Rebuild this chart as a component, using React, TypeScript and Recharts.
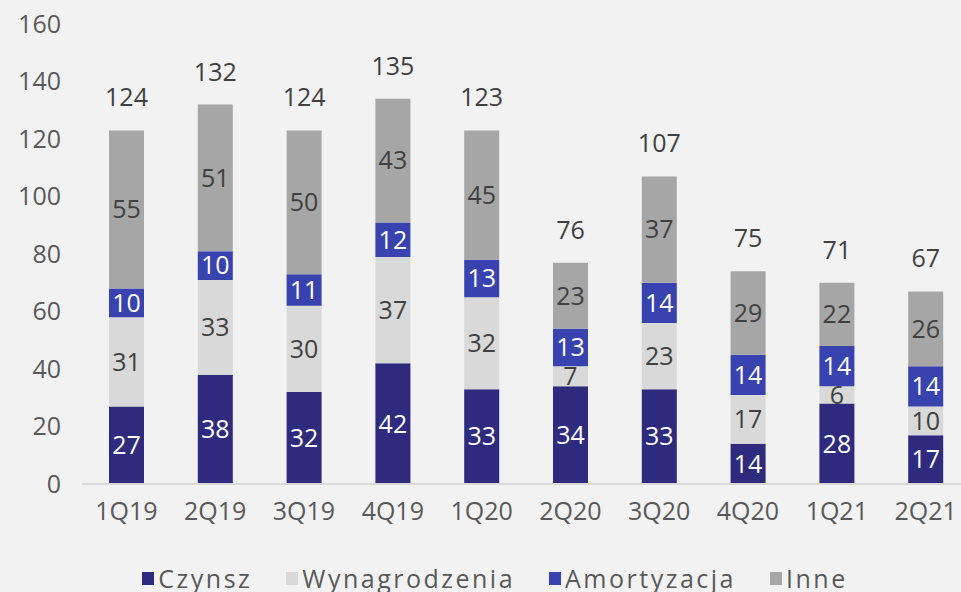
import { BarChart, Bar, XAxis, YAxis, LabelList, Legend } from "recharts";

const quarters = ["1Q19", "2Q19", "3Q19", "4Q19", "1Q20", "2Q20", "3Q20", "4Q20", "1Q21", "2Q21"];
const czynsz = [27, 38, 32, 42, 33, 34, 33, 14, 28, 17];
const wynagrodzenia = [31, 33, 30, 37, 32, 7, 23, 17, 6, 10];
const amortyzacja = [10, 10, 11, 12, 13, 13, 14, 14, 14, 14];
const inne = [55, 51, 50, 43, 45, 23, 37, 29, 22, 26];
const totals = [124, 132, 124, 135, 123, 76, 107, 75, 71, 67];
const yTicks = [0, 20, 40, 60, 80, 100, 120, 140, 160];

const FONT = "'Open Sans', sans-serif";
const AXIS = "#595959";
const DARK = "#404040";

const series = [
  { key: "Czynsz", color: "#2E2A7D", text: "#ffffff" },
  { key: "Wynagrodzenia", color: "#D9D9D9", text: DARK },
  { key: "Amortyzacja", color: "#3843B0", text: "#ffffff" },
  { key: "Inne", color: "#A6A6A6", text: DARK },
];

const chartData = quarters.map((q, i) => ({
  q,
  Czynsz: czynsz[i],
  Wynagrodzenia: wynagrodzenia[i],
  Amortyzacja: amortyzacja[i],
  Inne: inne[i],
  total: totals[i],
}));

function LegendBox() {
  return (
    <div
      style={{
        height: 58,
        paddingTop: 30,
        paddingLeft: 20,
        boxSizing: "border-box",
        display: "flex",
        justifyContent: "center",
        gap: 34,
        fontFamily: FONT,
        fontSize: 25,
        lineHeight: "24px",
        letterSpacing: 2.5,
        color: AXIS,
      }}
    >
      {series.map((s) => (
        <div key={s.key} style={{ display: "flex", alignItems: "center" }}>
          <span style={{ width: 12, height: 13, background: s.color, marginRight: 4, display: "inline-block" }} />
          <span>{s.key}</span>
        </div>
      ))}
    </div>
  );
}

export default function App() {
  return (
    <div
      style={{
        position: "fixed",
        left: 0,
        top: 0,
        width: 961,
        height: 592,
        overflow: "hidden",
        background: "#F2F2F2",
      }}
    >
      <BarChart
        width={970}
        height={592}
        data={chartData}
        margin={{ top: 24, right: 0, bottom: 0, left: 0 }}
        barSize={35}
      >
        <XAxis
          dataKey="q"
          height={50}
          tickLine={false}
          tickSize={0}
          tickMargin={18}
          axisLine={{ stroke: "#D9D9D9", strokeWidth: 2 }}
          tick={{ fill: AXIS, fontSize: 25, fontFamily: FONT }}
        />
        <YAxis
          width={82}
          domain={[0, 160]}
          ticks={yTicks}
          axisLine={false}
          tickLine={false}
          tickSize={0}
          tickMargin={21}
          tick={{ fill: AXIS, fontSize: 25, fontFamily: FONT }}
        />
        <Legend verticalAlign="bottom" content={() => <LegendBox />} />
        {series.map((s, idx) => (
          <Bar key={s.key} dataKey={s.key} stackId="a" fill={s.color} isAnimationActive={false}>
            <LabelList
              dataKey={s.key}
              position="center"
              fill={s.text}
              style={{ fontSize: 25, fontFamily: FONT }}
            />
            {idx === series.length - 1 && (
              <LabelList
                position="top"
                offset={24}
                valueAccessor={(e: any) => e?.payload?.total}
                fill={DARK}
                style={{ fontSize: 25, fontFamily: FONT }}
              />
            )}
          </Bar>
        ))}
      </BarChart>
    </div>
  );
}
